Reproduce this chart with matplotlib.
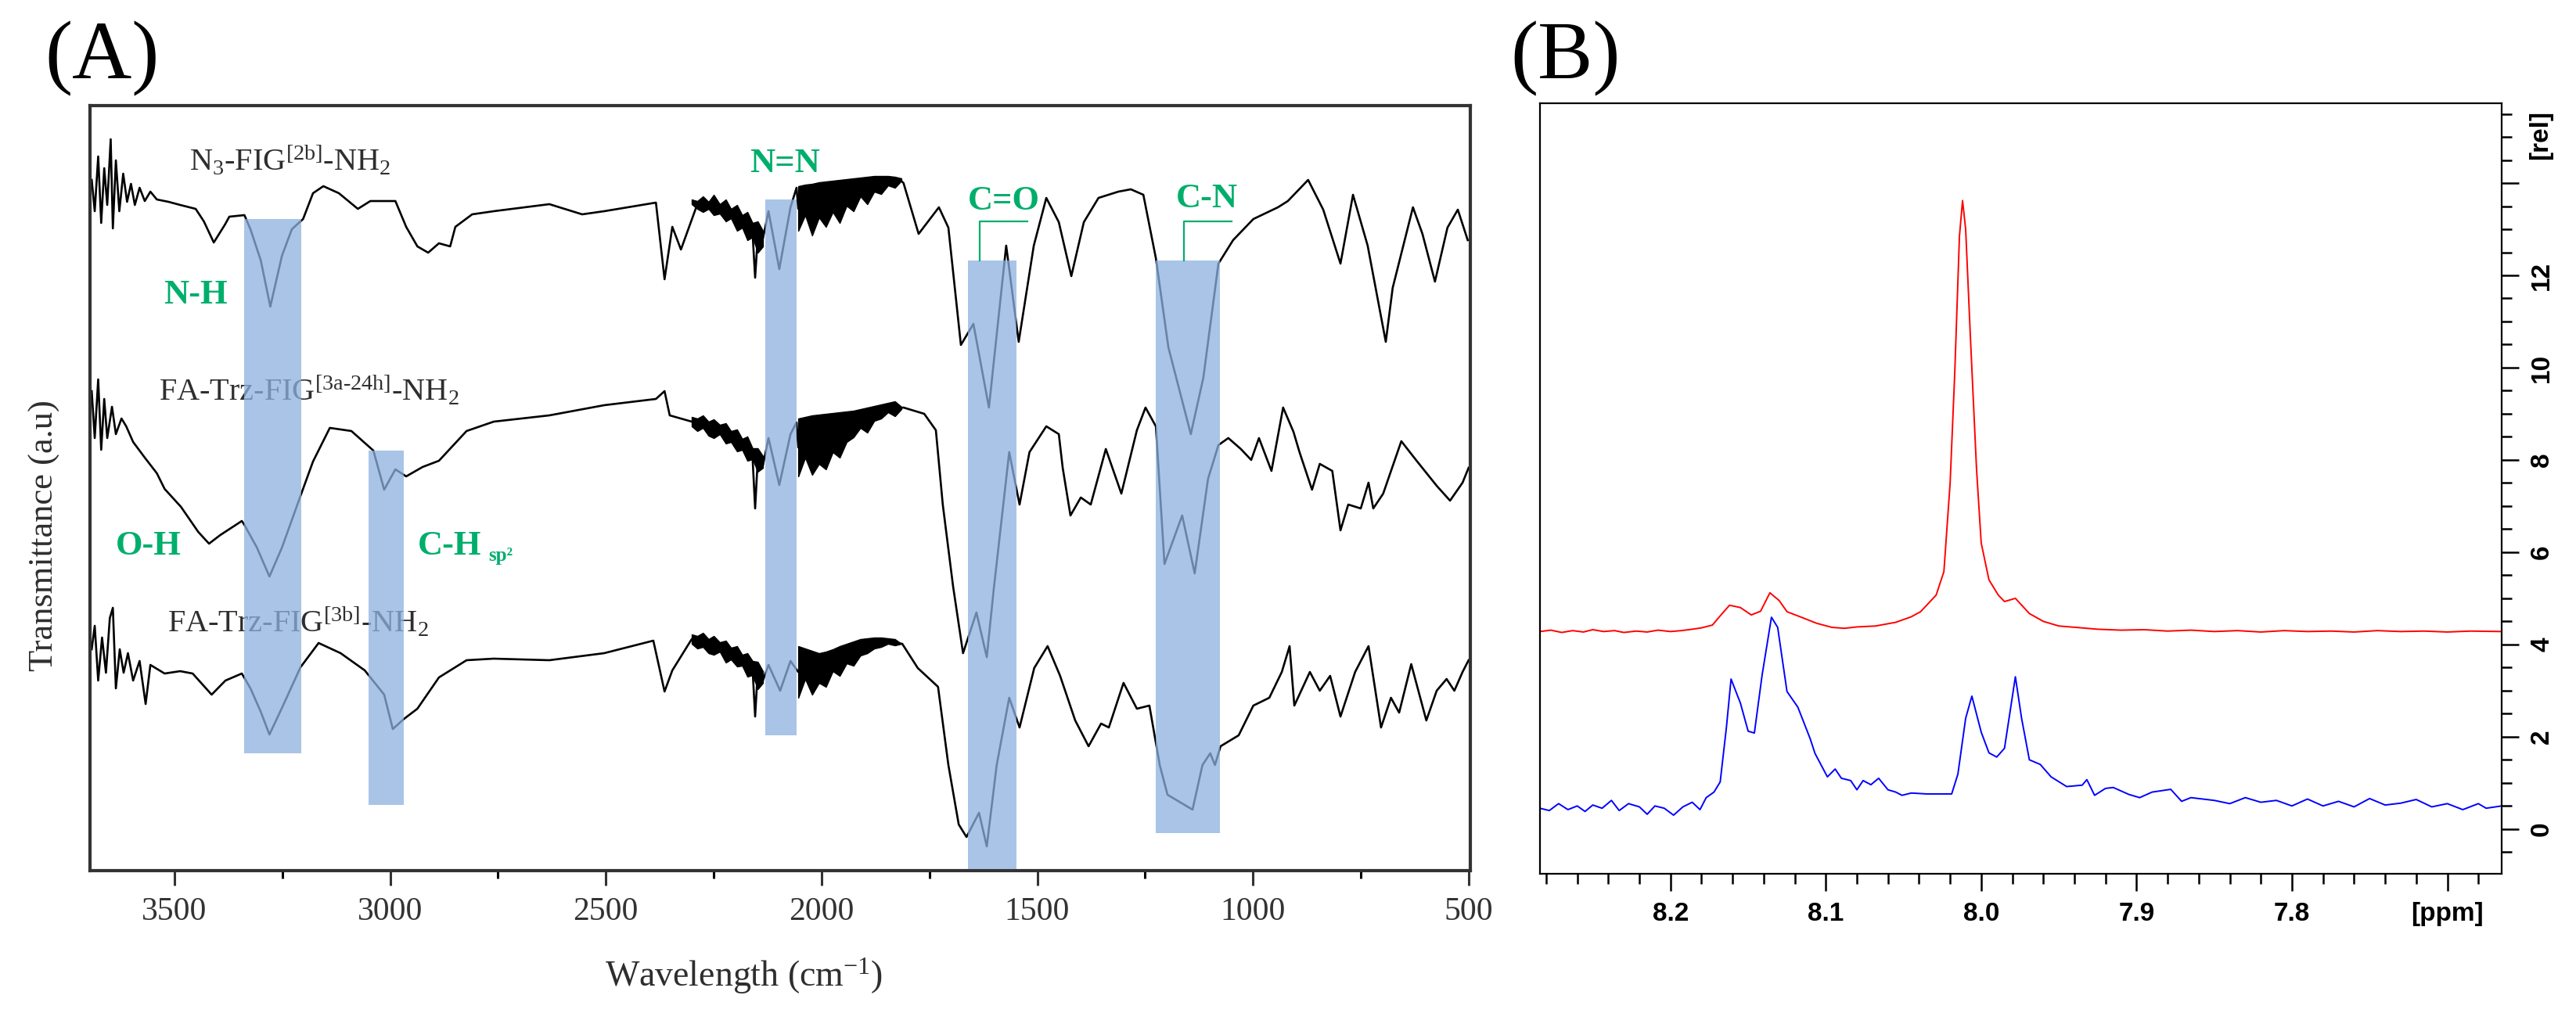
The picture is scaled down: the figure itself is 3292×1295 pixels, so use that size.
import matplotlib
matplotlib.use("Agg")
import matplotlib.pyplot as plt
from matplotlib.patches import Rectangle
from matplotlib.ticker import MultipleLocator

plt.rcParams["font.family"] = ["Liberation Serif", "DejaVu Serif"]
plt.rcParams["mathtext.fontset"] = "custom"
plt.rcParams["mathtext.rm"] = "Liberation Serif"
plt.rcParams["mathtext.default"] = "regular"

# ---------------- (A) FTIR, wavenumber (cm-1) vs transmittance (a.u.) ----------------
top_wn = [3692, 3685, 3677, 3670, 3663, 3656, 3648, 3643, 3636, 3628, 3619, 3610, 3601, 3592, 3581, 3569,
          3556, 3541, 3514, 3487, 3451, 3432, 3409, 3383, 3373, 3338, 3324, 3300, 3278, 3251, 3228, 3202,
          3179, 3155, 3119, 3075, 3046, 2988, 2963, 2937, 2912, 2887, 2861, 2849, 2810, 2760, 2631, 2555,
          2504, 2384, 2364, 2346, 2326, 2288, 2250, 2199, 2160, 2154, 2148, 2136, 2123, 2098, 2072, 2058,
          2054, 1982, 1945, 1891, 1837, 1818, 1810, 1775, 1728, 1706, 1677, 1648, 1612, 1572, 1543, 1508,
          1479, 1450, 1421, 1392, 1358, 1312, 1283, 1254, 1225, 1196, 1144, 1115, 1080, 1046, 999, 942,
          919, 872, 837, 797, 768, 734, 692, 676, 629, 607, 578, 549, 525, 502]
top_tr = [883, 843, 913, 828, 898, 851, 935, 821, 908, 843, 891, 855, 878, 851, 873, 856,
          868, 858, 855, 851, 846, 830, 803, 826, 836, 838, 820, 780, 721, 786, 820, 833,
          866, 875, 866, 846, 856, 856, 823, 798, 790, 802, 798, 823, 839, 843, 852, 839,
          843, 854, 756, 823, 794, 852, 851, 833, 815, 758, 810, 808, 843, 769, 848, 873,
          846, 852, 863, 875, 880, 883, 879, 814, 848, 822, 672, 699, 592, 799, 676, 799,
          860, 829, 760, 829, 860, 868, 871, 864, 783, 669, 558, 630, 776, 806, 833, 848,
          856, 883, 845, 776, 864, 799, 676, 745, 848, 814, 753, 822, 845, 806]

mid_wn = [3692, 3685, 3677, 3670, 3663, 3656, 3645, 3636, 3623, 3612, 3596, 3569, 3541, 3523, 3485, 3445,
          3420, 3394, 3344, 3338, 3309, 3280, 3251, 3208, 3179, 3140, 3090, 3039, 3014, 2988, 2963, 2925,
          2887, 2823, 2760, 2631, 2504, 2384, 2364, 2352, 2301, 2250, 2199, 2160, 2154, 2148, 2136, 2123,
          2098, 2072, 2058, 2054, 2005, 1925, 1837, 1810, 1762, 1735, 1719, 1695, 1672, 1641, 1617, 1601,
          1565, 1541, 1518, 1479, 1450, 1441, 1423, 1399, 1376, 1341, 1305, 1269, 1249, 1225, 1205, 1164,
          1135, 1104, 1080, 1057, 1028, 1004, 986, 957, 930, 906, 892, 863, 845, 816, 797, 779,
          750, 732, 721, 698, 656, 622, 574, 543, 514, 500]
mid_tr = [613, 553, 628, 538, 603, 553, 593, 558, 578, 568, 548, 528, 508, 488, 465, 433,
          418, 429, 447, 442, 413, 376, 413, 479, 523, 566, 562, 537, 487, 513, 504, 516,
          524, 562, 574, 582, 595, 603, 613, 582, 574, 565, 548, 528, 463, 525, 518, 553,
          493, 558, 573, 541, 548, 571, 590, 592, 584, 563, 468, 363, 278, 330, 273, 359,
          535, 468, 535, 568, 558, 515, 454, 477, 468, 539, 482, 563, 592, 568, 392, 454,
          380, 501, 544, 553, 539, 525, 553, 511, 592, 561, 535, 487, 520, 511, 435, 468,
          463, 496, 463, 482, 549, 525, 492, 473, 496, 515]

bot_wn = [3692, 3685, 3677, 3668, 3659, 3650, 3643, 3636, 3627, 3618, 3608, 3596, 3581, 3567, 3556, 3541,
          3523, 3487, 3458, 3414, 3382, 3344, 3324, 3300, 3280, 3251, 3208, 3166, 3115, 3059, 3014, 2994,
          2968, 2937, 2887, 2823, 2760, 2631, 2504, 2390, 2364, 2346, 2301, 2250, 2199, 2160, 2154, 2148,
          2136, 2123, 2096, 2072, 2054, 2002, 1954, 1895, 1837, 1813, 1777, 1730, 1706, 1682, 1664, 1635,
          1617, 1594, 1565, 1541, 1507, 1476, 1447, 1412, 1381, 1352, 1334, 1300, 1269, 1240, 1216, 1198,
          1140, 1117, 1099, 1088, 1075, 1033, 999, 962, 933, 915, 904, 868, 845, 821, 797, 763,
          732, 703, 680, 661, 633, 598, 574, 551, 533, 514, 500]
bot_tr = [283, 313, 243, 298, 253, 323, 336, 233, 283, 253, 278, 243, 268, 213, 263, 258,
          252, 255, 252, 225, 243, 252, 233, 203, 174, 208, 260, 291, 278, 256, 225, 181,
          194, 207, 247, 269, 271, 269, 278, 294, 229, 256, 296, 288, 273, 258, 197, 255,
          243, 263, 230, 268, 254, 256, 273, 287, 292, 290, 259, 235, 135, 59, 43, 74,
          31, 135, 221, 183, 259, 287, 249, 192, 159, 188, 183, 240, 207, 211, 135, 97,
          78, 135, 150, 135, 159, 173, 211, 221, 254, 287, 211, 254, 230, 249, 197, 254,
          287, 183, 221, 202, 264, 192, 230, 245, 230, 254, 269]

# noisy stretches drawn as a filled envelope: (wn, low, high)
noise_wn_a = [2301, 2288, 2275, 2262, 2250, 2236, 2222, 2210, 2196, 2184, 2172, 2160, 2148, 2136]
noise_wn_b = [2054, 2038, 2022, 2006, 1990, 1974, 1958, 1942, 1926, 1910, 1894, 1878, 1862, 1846, 1830, 1815]
noise_bands = [
    (noise_wn_a,
     [852, 846, 842, 846, 838, 840, 830, 834, 818, 822, 806, 810, 790, 798],
     [858, 856, 862, 855, 864, 852, 858, 846, 851, 838, 842, 828, 830, 818]),
    (noise_wn_b,
     [818, 838, 812, 835, 823, 842, 828, 850, 843, 862, 852, 868, 865, 876, 873, 882],
     [875, 877, 878, 880, 881, 882, 883, 884, 885, 886, 887, 888, 888, 888, 887, 885]),
    (noise_wn_a,
     [568, 562, 566, 556, 553, 558, 546, 548, 536, 538, 524, 526, 510, 515],
     [580, 578, 582, 574, 577, 570, 572, 562, 564, 552, 555, 540, 540, 530]),
    (noise_wn_b,
     [504, 528, 506, 520, 513, 535, 528, 548, 554, 566, 560, 575, 578, 586, 581, 590],
     [578, 580, 582, 583, 584, 585, 586, 587, 588, 590, 592, 594, 596, 598, 600, 593]),
    (noise_wn_a,
     [290, 284, 286, 278, 276, 280, 266, 270, 261, 262, 248, 250, 232, 240],
     [302, 300, 304, 296, 300, 292, 294, 285, 287, 276, 278, 268, 267, 255]),
    (noise_wn_b,
     [221, 245, 225, 240, 235, 255, 249, 265, 262, 275, 278, 284, 286, 290, 288, 290],
     [287, 284, 281, 278, 280, 283, 287, 290, 293, 296, 297, 298, 298, 297, 296, 290]),
]

# highlighted bands: (high wn, low wn, bottom, top)
band_hi = [3338, 3050, 2131, 1661, 1226]
band_lo = [3206, 2968, 2058, 1548, 1077]
band_bottom = [150, 84, 173, 2, 48]
band_top = [833, 537, 858, 780, 780]

# ---------------- (B) 1H NMR ----------------
red_ppm = [8.284, 8.277, 8.27, 8.263, 8.256, 8.25, 8.243, 8.236, 8.23, 8.222, 8.215, 8.208, 8.2, 8.193,
           8.186, 8.18, 8.173, 8.168, 8.162, 8.155, 8.148, 8.142, 8.136, 8.13, 8.125, 8.115, 8.106,
           8.096, 8.088, 8.08, 8.068, 8.055, 8.045, 8.039, 8.029, 8.024, 8.02, 8.017, 8.014, 8.012,
           8.01, 8.007, 8.003, 8.0, 7.995, 7.989, 7.985, 7.978, 7.969, 7.96, 7.95, 7.939, 7.925,
           7.91, 7.895, 7.88, 7.865, 7.85, 7.835, 7.82, 7.805, 7.79, 7.775, 7.76, 7.745, 7.73,
           7.715, 7.7, 7.685, 7.665]
red_int = [4.28, 4.31, 4.26, 4.30, 4.27, 4.32, 4.28, 4.30, 4.26, 4.29, 4.27, 4.31, 4.28, 4.30,
           4.33, 4.36, 4.42, 4.62, 4.85, 4.80, 4.64, 4.72, 5.12, 4.95, 4.71, 4.58, 4.46,
           4.37, 4.35, 4.38, 4.40, 4.48, 4.60, 4.71, 5.07, 5.58, 7.5, 9.9, 12.85, 13.62,
           13.0, 10.7, 7.8, 6.2, 5.4, 5.07, 4.93, 5.0, 4.67, 4.50, 4.40, 4.37, 4.33,
           4.31, 4.32, 4.29, 4.31, 4.28, 4.30, 4.27, 4.30, 4.28, 4.29, 4.27, 4.30, 4.28,
           4.29, 4.27, 4.29, 4.28]

blue_ppm = [8.284, 8.278, 8.272, 8.266, 8.26, 8.255, 8.25, 8.244, 8.238, 8.233, 8.227, 8.22, 8.215,
            8.21, 8.204, 8.198, 8.192, 8.186, 8.181, 8.177, 8.172, 8.168, 8.164, 8.161, 8.155, 8.15,
            8.146, 8.141, 8.135, 8.131, 8.125, 8.118, 8.11, 8.107, 8.099, 8.094, 8.09, 8.084, 8.08,
            8.076, 8.071, 8.066, 8.06, 8.055, 8.051, 8.045, 8.035, 8.025, 8.019, 8.015, 8.01, 8.006,
            8.0, 7.995, 7.99, 7.985, 7.978, 7.974, 7.969, 7.962, 7.955, 7.945, 7.935, 7.932, 7.927,
            7.92, 7.915, 7.905, 7.898, 7.89, 7.878, 7.871, 7.865, 7.85, 7.84, 7.83, 7.82, 7.81,
            7.8, 7.79, 7.78, 7.77, 7.76, 7.75, 7.74, 7.73, 7.72, 7.71, 7.7, 7.69, 7.68, 7.675, 7.665]
blue_int = [0.45, 0.40, 0.55, 0.42, 0.50, 0.38, 0.52, 0.45, 0.62, 0.40, 0.55, 0.48, 0.32,
            0.50, 0.45, 0.30, 0.48, 0.58, 0.42, 0.68, 0.80, 1.02, 2.2, 3.25, 2.73, 2.12,
            2.08, 3.34, 4.59, 4.37, 2.98, 2.64, 1.95, 1.64, 1.13, 1.30, 1.10, 1.05, 0.85,
            1.05, 0.96, 1.10, 0.85, 0.80, 0.73, 0.78, 0.76, 0.76, 0.76, 1.19, 2.4, 2.88,
            2.1, 1.65, 1.56, 1.75, 3.3, 2.4, 1.5, 1.40, 1.13, 0.92, 0.95, 1.07, 0.73,
            0.88, 0.90, 0.75, 0.68, 0.80, 0.86, 0.60, 0.68, 0.62, 0.55, 0.68, 0.58, 0.62,
            0.50, 0.65, 0.50, 0.60, 0.48, 0.66, 0.52, 0.56, 0.64, 0.48, 0.55, 0.42, 0.55, 0.45, 0.50]

W, H = 3292, 1295
fig = plt.figure(figsize=(W / 100, H / 100), dpi=100)


def px_axes(x0, y0, x1, y1):
    return fig.add_axes([x0 / W, 1 - y1 / H, (x1 - x0) / W, (y1 - y0) / H])


green = "#00AE6C"
ink = "#2e2e2e"

# ---- panel A ----
ax = px_axes(115, 135, 1879, 1113)
ax.set_xlim(3696, 496)
ax.set_ylim(0, 978)
for wn, tr in [(top_wn, top_tr), (mid_wn, mid_tr), (bot_wn, bot_tr)]:
    ax.plot(wn, tr, color="black", lw=1.9, zorder=2)
for wn, lo, hi in noise_bands:
    ax.fill_between(wn, lo, hi, color="black", lw=1.0, zorder=2)
for hi_, lo_, b, t in zip(band_hi, band_lo, band_bottom, band_top):
    ax.add_patch(Rectangle((lo_, b), hi_ - lo_, t - b, facecolor="#8DB0E0", alpha=0.75, lw=0, zorder=3))

for s in ax.spines.values():
    s.set_linewidth(3)
    s.set_color("#333333")
ax.set_yticks([])
ax.xaxis.set_major_locator(MultipleLocator(500))
ax.xaxis.set_minor_locator(MultipleLocator(250))
ax.tick_params(axis="x", which="major", direction="out", length=14, width=2.2, pad=10,
               labelsize=30, colors="#333333")
ax.tick_params(axis="x", which="minor", direction="out", length=7, width=2.2)

lab = dict(fontsize=29, color=ink, zorder=1)
ax.text(3465, 895, r"N$_3$-FIG$^{[2b]}$-NH$_2$", **lab)
ax.text(3536, 601, r"FA-Trz-FIG$^{[3a\text{-}24h]}$-NH$_2$", **lab)
ax.text(3516, 305, r"FA-Trz-FIG$^{[3b]}$-NH$_2$", **lab)

gl = dict(fontsize=32, fontweight="bold", color=green, ha="center", va="baseline", zorder=4)
ax.text(3451, 725, "N-H", **gl)
ax.text(2085, 893, "N=N", **gl)
ax.text(1577, 845, "C=O", **gl)
ax.text(1106, 848, "C-N", **gl)
ax.text(3560, 404, "O-H", **gl)
ax.text(2937, 404, "C-H", fontsize=32, fontweight="bold", color=green, ha="left", va="baseline", zorder=4)
ax.text(2772, 396, "sp²", fontsize=18, fontweight="bold", color=green, ha="left", va="baseline", zorder=4)
ax.plot([1633, 1633, 1523], [780, 830, 830], color=green, lw=1.6, zorder=4)
ax.plot([1160, 1160, 1050], [780, 830, 830], color=green, lw=1.6, zorder=4)

fig.text(951 / W, 1 - 1248 / H, r"Wavelength (cm$^{-1}$)", fontsize=33, color=ink, ha="center", va="center")
fig.text(57 / W, 1 - 685 / H, "Transmittance (a.u)", fontsize=32, color=ink, rotation=90,
         ha="center", va="center")
fig.text(57 / W, 1 - 100 / H, "(A)", fontsize=76, color="black", ha="left", va="baseline")
fig.text(1930 / W, 1 - 100 / H, "(B)", fontsize=76, color="black", ha="left", va="baseline")

# ---- panel B ----
bx = px_axes(1968, 132, 3197, 1117)
bx.plot(red_ppm, red_int, color="#FF0000", lw=1.4)
bx.plot(blue_ppm, blue_int, color="#0000FF", lw=1.4)
bx.set_xlim(8.284, 7.665)
bx.set_ylim(-0.97, 15.73)
for s in bx.spines.values():
    s.set_linewidth(1.6)
    s.set_color("black")

sans = dict(fontsize=24, fontweight="bold", fontfamily="Liberation Sans")
bx.set_xticks([8.2, 8.1, 8.0, 7.9, 7.8, 7.7], ["8.2", "8.1", "8.0", "7.9", "7.8", "[ppm]"], **sans)
bx.xaxis.set_minor_locator(MultipleLocator(0.02))
bx.yaxis.tick_right()
bx.set_yticks([0, 2, 4, 6, 8, 10, 12, 14], ["0", "2", "4", "6", "8", "10", "12", ""],
              rotation=90, va="center", **sans)
bx.yaxis.set_minor_locator(MultipleLocator(0.5))
bx.tick_params(axis="both", which="major", direction="out", length=16, width=1.8, pad=10)
bx.tick_params(axis="both", which="minor", direction="out", length=9, width=1.8)
bx.tick_params(axis="y", which="both", left=False, right=True)
fig.text(3247 / W, 1 - 172 / H, "[rel]", rotation=90, ha="center", va="center", **sans)

fig.savefig("out.png", dpi=100)
